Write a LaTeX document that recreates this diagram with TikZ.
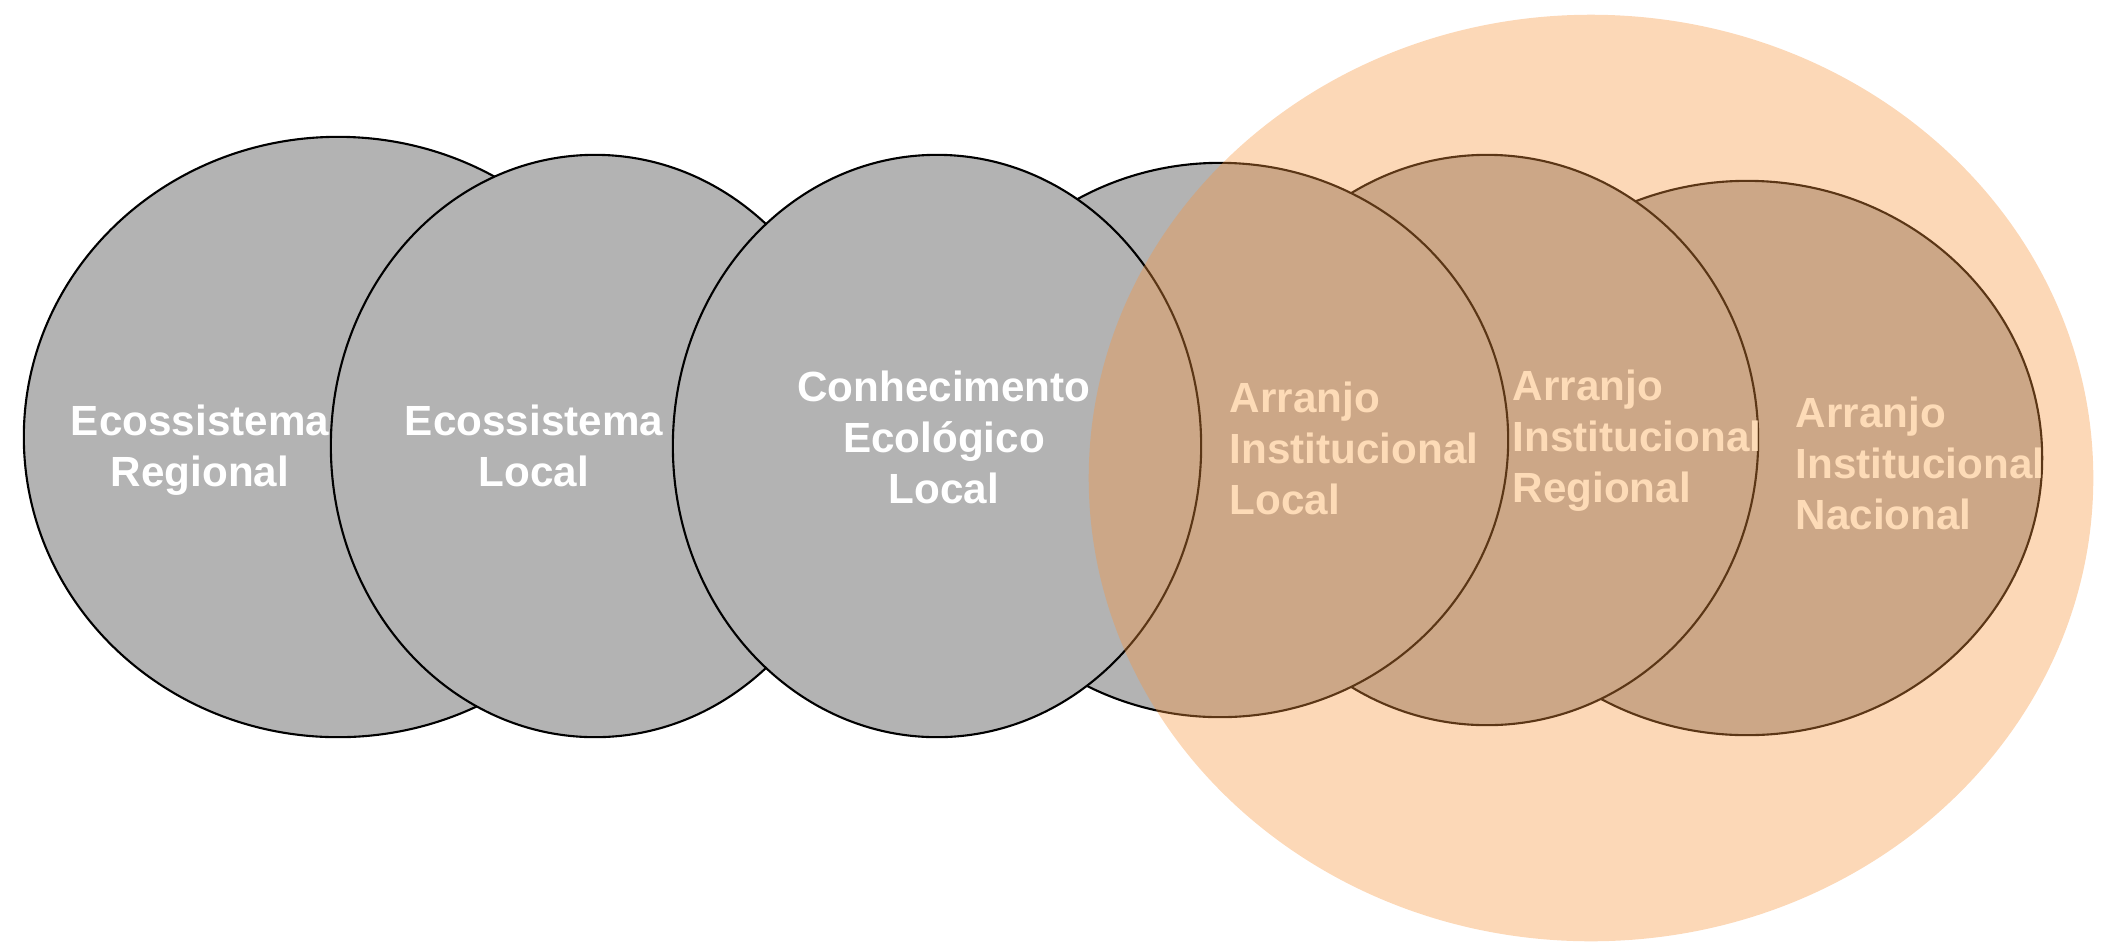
\documentclass[tikz,border=0pt]{standalone}
\usepackage{fontspec}
\setmainfont{Liberation Sans}
\usetikzlibrary{shapes.geometric}
\definecolor{cinza}{RGB}{179,179,179}
\definecolor{laranja}{RGB}{247,148,60}
\definecolor{pessego}{RGB}{253,219,183}
\begin{document}
\begin{tikzpicture}[x=0.01cm, y=-0.01cm,
  circulo/.style={ellipse, draw, line width=0.6pt, fill=cinza, inner sep=0pt, outer sep=0pt},
  rotulo/.style={inner sep=0pt, font=\fontsize{12pt}{14.5pt}\selectfont\bfseries},
  rotulocinza/.style={rotulo, text=white, align=center, anchor=base},
  rotuloarranjo/.style={rotulo, text=pessego, align=left, anchor=base west}]
  \useasboundingbox (0,0) rectangle (2119,942);

  \node (eco-reg) [circulo, minimum width=6.28cm, minimum height=6.00cm] at (338,437) {};
  \node (eco-loc) [circulo, minimum width=5.28cm, minimum height=5.82cm] at (595,446) {};
  \node (arr-nac) [circulo, minimum width=5.90cm, minimum height=5.54cm] at (1747,458) {};
  \node (arr-reg) [circulo, minimum width=5.42cm, minimum height=5.70cm] at (1487,440) {};
  \node (arr-loc) [circulo, minimum width=5.76cm, minimum height=5.54cm] at (1220,440) {};
  \node (con-eco) [circulo, minimum width=5.28cm, minimum height=5.82cm] at (937,446) {};

  \node (instituicoes) [ellipse, fill=laranja, fill opacity=0.37, inner sep=0pt, outer sep=0pt,
    minimum width=10.04cm, minimum height=9.26cm] at (1591,478) {};

  \node (txt-eco-reg) [rotulocinza] at (200,486) {Ecossistema\\Regional};
  \node (txt-eco-loc) [rotulocinza] at (534,486) {Ecossistema\\Local};
  \node (txt-con-eco) [rotulocinza] at (944,503) {Conhecimento\\Ecológico\\Local};
  \node (txt-arr-loc) [rotuloarranjo] at (1229,514) {Arranjo\\Institucional\\Local};
  \node (txt-arr-reg) [rotuloarranjo] at (1512,502) {Arranjo\\Institucional\\Regional};
  \node (txt-arr-nac) [rotuloarranjo] at (1795,529) {Arranjo\\Institucional\\Nacional};
\end{tikzpicture}
\end{document}
